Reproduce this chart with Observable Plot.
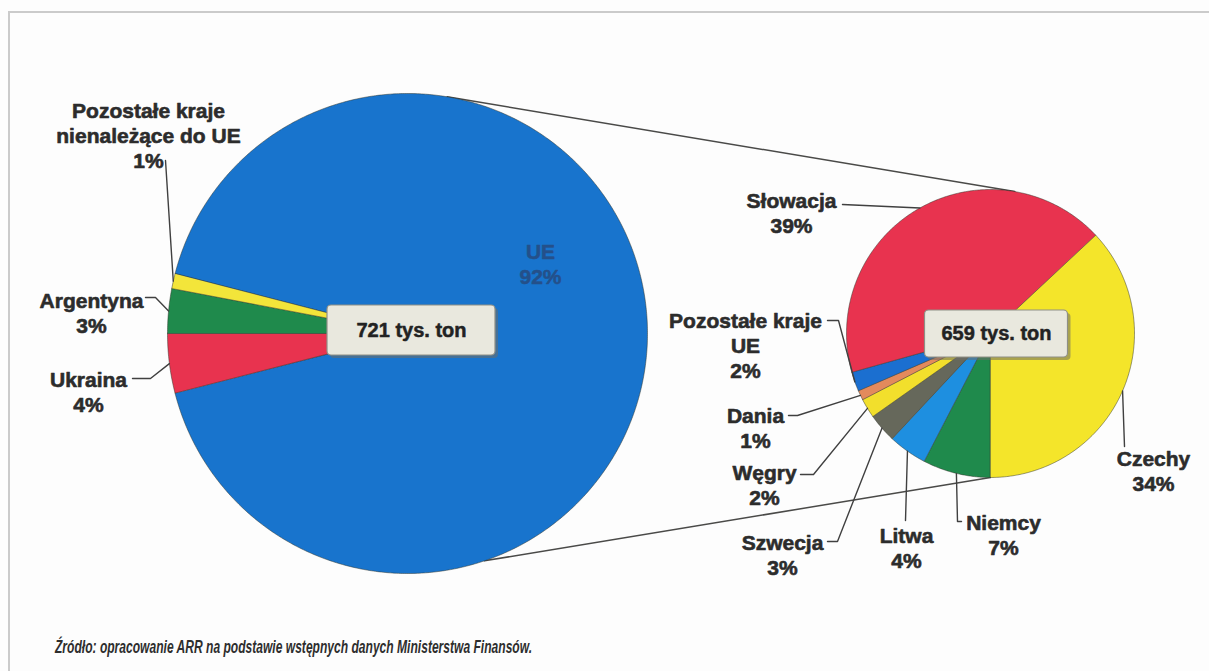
<!DOCTYPE html>
<html><head><meta charset="utf-8">
<script src="https://cdn.jsdelivr.net/npm/d3@7"></script>
<script src="https://cdn.jsdelivr.net/npm/@observablehq/plot@0.6"></script>
<style>
html,body{margin:0;background:#fdfdfd;overflow:hidden;}
#wrap{position:relative;width:1209px;height:671px;overflow:hidden;background:#fdfdfd;}
#ftop{position:absolute;left:8px;top:11px;width:1250px;height:2px;background:#cbcbcb;}
#fleft{position:absolute;left:8px;top:11px;width:2px;height:700px;background:#cbcbcb;}
#chart{position:absolute;left:0;top:0;}
#cap{position:absolute;left:0;top:625px;}
</style></head><body>
<div id="wrap"><div id="ftop"></div><div id="fleft"></div><div id="chart"></div>
<svg id="cap" width="1209" height="46"><text x="55" y="28" fill="#2e2e2e" font-family="Liberation Sans, Arial, sans-serif" font-style="italic" font-weight="bold" font-size="18" textLength="477" lengthAdjust="spacingAndGlyphs">Źródło: opracowanie ARR na podstawie  wstępnych danych Ministerstwa Finansów.</text></svg>
</div>
<script>
// ---- data ----
const outerNames = ["UE", "Ukraina", "Argentyna", "Pozostałe kraje nienależące do UE"];
const outerShares = [92, 4, 3, 1];
const outerColors = ["#1874cd", "#e8334f", "#1f8a4c", "#f3e53a"];
const innerNames = ["Niemcy", "Litwa", "Szwecja", "Węgry", "Dania", "Pozostałe kraje UE", "Słowacja", "Czechy"];
const innerShares = [7, 4, 3, 2, 1, 2, 39, 34];
const innerColors = ["#1f8a4c", "#1e8fe0", "#66685b", "#f2df2c", "#e38a5c", "#1b6fd0", "#e8334f", "#f4e52a"];
const totals = [721, 659];
const totalUnit = "tys. ton";

// ---- layout ----
const W = 1209, H = 625;
const FONT = "Liberation Sans, Arial, sans-serif";
const wrapNames = {"Pozostałe kraje nienależące do UE": "Pozostałe kraje\nnienależące do UE", "Pozostałe kraje UE": "Pozostałe kraje\nUE"};
const pies = [
  {cx: 407, cy: 333, r: 240, names: outerNames, shares: outerShares, startCentered: 90,
   box: {dx: 4, dy: -3, w: 168, h: 50}, link: [9.5, 161.3]},
  {cx: 990, cy: 333, r: 144, names: innerNames, shares: innerShares, start: 180,
   box: {dx: 6, dy: 0.5, w: 143, h: 47}, link: [9.7, 180]}
];
// label placement: x = centre of text, y = cap top of first line, lead = leader points from the label side
const labelLayout = {
  "UE": {x: 540, y: 241, inside: true},
  "Ukraina": {x: 88, y: 369, lead: [[132, 378], [150, 378]]},
  "Argentyna": {x: 91, y: 290, lead: [[145, 297], [155, 297]]},
  "Pozostałe kraje nienależące do UE": {x: 148, y: 100, lead: [[165, 160]]},
  "Słowacja": {x: 791, y: 190, lead: [[842, 204]]},
  "Czechy": {x: 1153, y: 448, lead: [[1124, 446]]},
  "Niemcy": {x: 1003, y: 512, lead: [[961, 521], [957, 521]]},
  "Litwa": {x: 906, y: 525, lead: [[905, 520]]},
  "Szwecja": {x: 782, y: 532, lead: [[827, 541], [837, 541]]},
  "Węgry": {x: 764, y: 462, lead: [[800, 474], [813, 474]]},
  "Dania": {x: 755, y: 405, lead: [[788, 415], [797, 415]]},
  "Pozostałe kraje UE": {x: 745, y: 310, lead: [[827, 320], [838, 320]]}
};

const rad = a => a * Math.PI / 180;
const pt = (p, a, r = p.r) => [p.cx + r * Math.sin(rad(a)), p.cy - r * Math.cos(rad(a))];

const sliceRows = [], labelRows = [], leaderRows = [], linkRows = [], boxRows = [];
pies.forEach((p, pi) => {
  const total = d3.sum(p.shares);
  let a = p.start !== undefined ? p.start : p.startCentered - (p.shares[0] / total) * 180;
  p.names.forEach((name, i) => {
    const span = p.shares[i] / total * 360;
    const a0 = a, a1 = a + span;
    sliceRows.push({name, x: p.cx, y: p.cy});
    const n = Math.max(2, Math.ceil(span / 0.5));
    for (let k = 0; k <= n; k++) {
      const [x, y] = pt(p, a0 + span * k / n);
      sliceRows.push({name, x, y});
    }
    const mid = (a0 + a1) / 2;
    const L = labelLayout[name];
    if (L) {
      labelRows.push({name, x: L.x, y: L.y, inside: !!L.inside,
        text: (wrapNames[name] || name) + "\n" + p.shares[i] + "%"});
      if (L.lead) {
        L.lead.forEach(([x, y]) => leaderRows.push({name, x, y}));
        const [ex, ey] = pt(p, mid);
        leaderRows.push({name, x: ex, y: ey});
      }
    }
    a = a1;
  });
  const bx = p.cx + p.box.dx, by = p.cy + p.box.dy;
  boxRows.push({x1: bx - p.box.w / 2, x2: bx + p.box.w / 2, y1: by - p.box.h / 2, y2: by + p.box.h / 2,
    cx: bx, cy: by, text: totals[pi] + " " + totalUnit});
});
pies[0].link.forEach((a, j) => {
  const [x1, y1] = pt(pies[0], a), [x2, y2] = pt(pies[1], pies[1].link[j]);
  linkRows.push({k: j, x: x1, y: y1}, {k: j, x: x2, y: y2});
});

const chart = Plot.plot({
  width: W, height: H, margin: 0, axis: null,
  style: {background: "transparent", overflow: "visible"},
  x: {domain: [0, W], range: [0, W]},
  y: {domain: [0, H], range: [0, H]},
  color: {domain: outerNames.concat(innerNames), range: outerColors.concat(innerColors)},
  marks: [
    Plot.line(linkRows, {x: "x", y: "y", z: "k", stroke: "#4a4a48", strokeWidth: 1.5}),
    Plot.line(sliceRows, {x: "x", y: "y", z: "name", fill: "name", stroke: "#2e3328", strokeWidth: 0.9, strokeOpacity: 0.55, curve: "linear-closed"}),
    Plot.line(leaderRows, {x: "x", y: "y", z: "name", stroke: "#404040", strokeWidth: 1.4}),
    Plot.text(labelRows.filter(d => !d.inside), {x: "x", y: "y", text: "text", textAnchor: "middle", lineAnchor: "top",
      fontSize: 21, fontWeight: "bold", fontFamily: FONT, lineHeight: 1.19, fill: "#2c2c2c", stroke: "#2c2c2c", strokeWidth: 0.6}),
    Plot.text(labelRows.filter(d => d.inside), {x: "x", y: "y", text: "text", textAnchor: "middle", lineAnchor: "top",
      fontSize: 21, fontWeight: "bold", fontFamily: FONT, lineHeight: 1.19, fill: "#24508a", stroke: "#24508a", strokeWidth: 0.5}),
    Plot.rect(boxRows, {x1: d => d.x1 + 3, x2: d => d.x2 + 3, y1: d => d.y1 + 3, y2: d => d.y2 + 3, fill: "#6e6e68", fillOpacity: 0.55, rx: 4}),
    Plot.rect(boxRows, {x1: "x1", x2: "x2", y1: "y1", y2: "y2", fill: "#e9e8de", stroke: "#8f8f86", strokeWidth: 1.2, rx: 4}),
    Plot.text(boxRows, {x: "cx", y: "cy", text: "text", fontSize: 20, fontWeight: "bold", fontFamily: FONT, fill: "#222", stroke: "#222", strokeWidth: 0.5, letterSpacing: -0.5})
  ]
});
document.getElementById("chart").appendChild(chart);
</script>
</body></html>
